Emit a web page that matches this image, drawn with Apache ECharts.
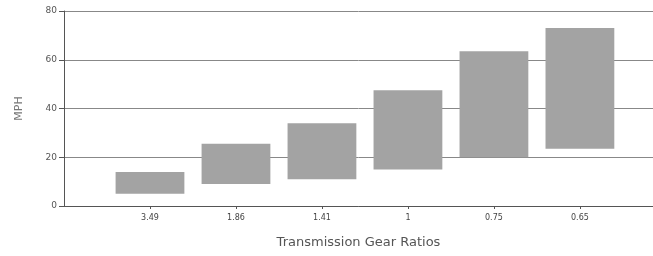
<!DOCTYPE html>
<html>
<head>
<meta charset="utf-8">
<script src="https://cdn.jsdelivr.net/npm/echarts@6/dist/echarts.min.js"></script>
<style>
  html, body { margin: 0; padding: 0; background: #fff; }
  #chart { width: 653px; height: 256px; }
</style>
</head>
<body>
<div id="chart"></div>
<script>
// gear ratios and the speed range (mph) covered in each gear
var gears = ['3.49', '1.86', '1.41', '1', '0.75', '0.65'];
var lowSpeed = [5, 9, 11, 15, 20, 23.5];
var highSpeed = [14, 25.5, 34, 47.5, 63.5, 73];
var yTicks = [0, 20, 40, 60, 80];

var dom = document.getElementById('chart');
var myChart = echarts.init(dom);

var rangeData = [];
var gearPos = [];
for (var i = 0; i < gears.length; i++) {
    rangeData.push([i + 1, lowSpeed[i], highSpeed[i]]);
    gearPos.push(i + 1);
}

var option = {
    animation: false,
    textStyle: { fontFamily: 'DejaVu Sans' },
    grid: {
        left: 64,
        right: 0,
        top: 11,
        bottom: 50
    },
    xAxis: {
        type: 'value',
        min: 0,
        max: 6.85,
        name: 'Transmission Gear Ratios',
        nameLocation: 'middle',
        nameGap: 30,
        nameTextStyle: { color: '#555', fontSize: 13 },
        axisLine: { onZero: false, lineStyle: { color: '#555', width: 1 } },
        axisTick: { length: 3, customValues: gearPos, lineStyle: { color: '#555' } },
        axisLabel: {
            color: '#444',
            fontSize: 8,
            margin: 8,
            customValues: gearPos,
            formatter: function (v) {
                return gears[Math.round(v) - 1] || '';
            }
        },
        splitLine: { show: false }
    },
    yAxis: {
        type: 'value',
        min: yTicks[0],
        max: yTicks[yTicks.length - 1],
        interval: 20,
        name: 'MPH',
        nameLocation: 'middle',
        nameRotate: 90,
        nameGap: 39,
        nameTextStyle: { color: '#777', fontSize: 11 },
        axisLine: { show: true, lineStyle: { color: '#555', width: 1 } },
        axisTick: { show: true, length: 5, lineStyle: { color: '#555' } },
        axisLabel: { color: '#555', fontSize: 9, margin: 7 },
        splitLine: { lineStyle: { color: '#888', width: 1 } }
    },
    series: [
        {
            type: 'custom',
            data: rangeData,
            encode: { x: 0, y: [1, 2] },
            renderItem: function (params, api) {
                var x = api.value(0);
                var p1 = api.coord([x, api.value(1)]);
                var p2 = api.coord([x, api.value(2)]);
                var w = api.size([1, 0])[0] * 0.8;
                return {
                    type: 'rect',
                    shape: { x: p1[0] - w / 2, y: p2[1], width: w, height: p1[1] - p2[1] },
                    style: { fill: '#a3a3a3' }
                };
            }
        }
    ]
};

if (option && typeof option === 'object') {
    myChart.setOption(option, true);
}
window.addEventListener('resize', function () {
    myChart.resize();
});
</script>
</body>
</html>
